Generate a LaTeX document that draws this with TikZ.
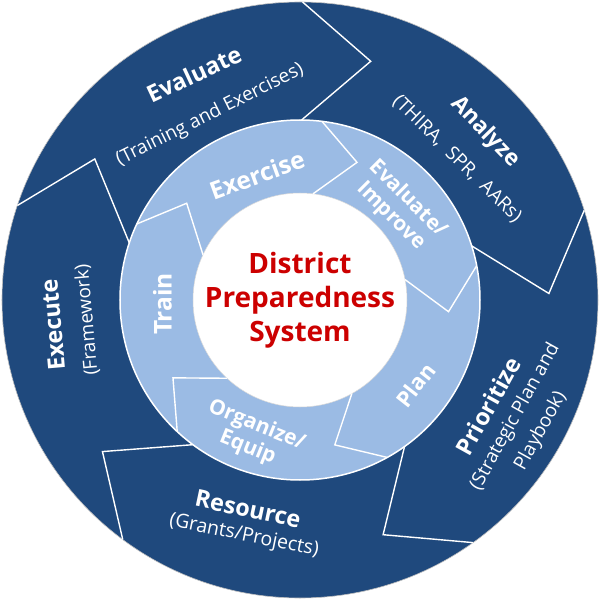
\documentclass[tikz,border=0pt]{standalone}
\usepackage{fontspec}
\setmainfont{Open Sans}
\definecolor{darkb}{RGB}{31,73,125}
\definecolor{lightb}{RGB}{155,187,228}
\definecolor{redt}{RGB}{204,0,0}
\begin{document}
\begin{tikzpicture}[x=1pt,y=1pt,
  sep/.style={white,line width=1.4pt,line join=miter},
  ttl/.style={text=white,inner sep=0pt,font=\fontsize{23.5}{27}\selectfont\bfseries},
  sub/.style={text=white,inner sep=0pt,align=center,font=\fontsize{19}{29}\selectfont},
  inn/.style={text=white,inner sep=0pt,align=center,font=\fontsize{21}{24}\selectfont\bfseries},
  innb/.style={inn,font=\fontsize{24.5}{28}\selectfont\bfseries},
  ctr/.style={text=redt,inner sep=0pt,align=center,font=\fontsize{28}{34}\selectfont\bfseries}]
\useasboundingbox (-300,-300) rectangle (300,300);
% rings
\fill[darkb] (0,0) circle (298);
\draw[black!25,line width=0.6pt] (0,0) circle (298);
\fill[lightb] (0,0) circle (180);
\draw[white,line width=1.5pt] (0,0) circle (180);
\fill[white] (0,0) circle (107);
\draw[black!15,line width=0.5pt] (0,0) circle (107);
% outer chevron separators
\foreach \a in {89.5,17.5,-54.5,-126.5,161.5}
  \draw[sep] (\a:298) -- ({\a-16}:249) -- (\a:180);
% inner chevron separators
\foreach \a in {83,11,-61,-133,155}
  \draw[sep] (\a:180) -- ({\a-15.5}:149) -- (\a:107);
% centre
\node[ctr] (centre) at (0,0) {District\\Preparedness\\System};
% outer labels
\node[ttl,rotate=25] (evalT) at (-106,226) {Evaluate};
\node[sub,rotate=26.5] (evalS) at (-90,185) {(Training and Exercises)};
\node[ttl,font=\fontsize{22.5}{27}\selectfont\bfseries,rotate=-46] (anaT) at (185,168) {Analyze};
\node[sub,rotate=-44.5] (anaS) at (157,141) {(THIRA,\ \ SPR,\ \ AARs)};
\node[ttl,rotate=61] (priT) at (188,-106) {Prioritize};
\node[sub,rotate=61] (priS) at (228,-124) {(Strategic Plan and\\Playbook)};
\node[ttl,rotate=-12] (resT) at (-52,-209) {Resource};
\node[sub,font=\fontsize{19.5}{29}\selectfont,rotate=-11.5] (resS) at (-56,-236) {(Grants/Projects)};
\node[ttl,rotate=95] (exeT) at (-247,-25) {Execute};
\node[sub,rotate=95] (exeS) at (-213,-20) {(Framework)};
% inner labels
\node[innb,rotate=20] (exer) at (-43,125) {Exercise};
\node[inn,rotate=-45] (evim) at (99.5,92.5) {Evaluate/\\Improve};
\node[inn,font=\fontsize{22}{24}\selectfont\bfseries,rotate=52] (plan) at (115.7,-85) {Plan};
\node[inn,rotate=-22] (orgeq) at (-48,-136.7) {Organize/\\Equip};
\node[innb,rotate=90] (train) at (-137.5,-4) {Train};
\end{tikzpicture}
\end{document}
